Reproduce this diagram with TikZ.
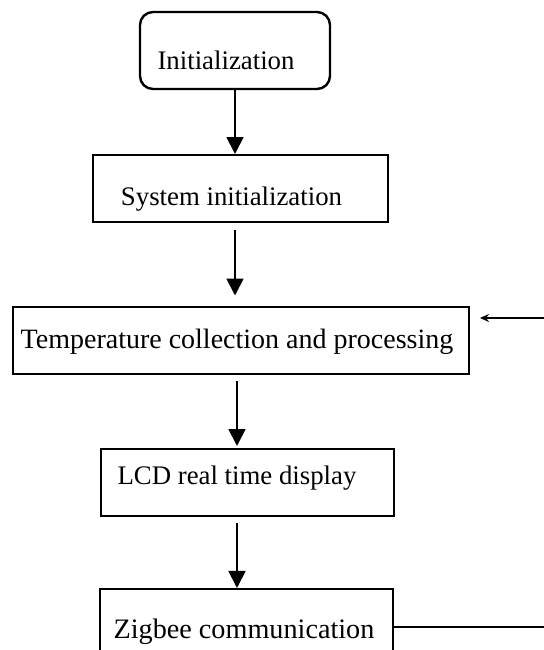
\documentclass[tikz,border=0pt]{standalone}
\usepackage{fontspec}
\setmainfont{Liberation Serif}
\usetikzlibrary{arrows.meta}

\tikzset{
  stepbox/.style={draw, line width=1pt, minimum width=#1, minimum height=33.5pt, inner sep=0pt},
  startbox/.style={draw, line width=1.2pt, rounded corners=6.5pt, minimum width=95pt, minimum height=38.5pt, inner sep=0pt},
  boxtext/.style={font=\fontsize{13.4}{16}\selectfont},
  flow/.style={line width=0.9pt, -{Triangle[length=8.5pt,width=8.5pt]}},
  loopback/.style={line width=0.9pt, -{Stealth[length=4.5pt,width=4pt]}}
}

\begin{document}
\begin{tikzpicture}[x=0.5pt,y=0.5pt]
  \useasboundingbox (0,0) rectangle (544,650);
  \clip (0,0) rectangle (544,650);

  % boxes
  \node[startbox, label={[boxtext,xshift=-4.5pt,yshift=-4.75pt]center:Initialization}] (init) at (235,599.5) {};
  \node[stepbox=147.5pt, label={[boxtext,xshift=-4.5pt,yshift=-5.5pt]center:System initialization}] (sys) at (240.5,461.5) {};
  \node[stepbox=228pt, label={[boxtext,font=\fontsize{14}{17}\selectfont,xshift=-2pt,yshift=-1pt]center:Temperature collection and processing}] (temp) at (241,310) {};
  \node[stepbox=146.5pt, label={[boxtext,xshift=-5.25pt,yshift=2.25pt]center:LCD real time display}] (lcd) at (247.5,167.5) {};
  \node[stepbox=146.5pt, label={[boxtext,font=\fontsize{14.1}{17}\selectfont,xshift=-1.25pt,yshift=-4.75pt]center:Zigbee communication}] (zig) at (246.5,27.5) {};

  % free ends at the right border
  \coordinate (zigout) at (544,23);
  \coordinate (fbin) at (544,332);

  % main flow
  \draw[flow] (init.south) -- (init.south |- sys.north);
  \draw[flow, shorten <=3.5pt, shorten >=5pt] ([xshift=-2.75pt]sys.south) -- ([xshift=-2.75pt]sys.south |- temp.north);
  \draw[flow, shorten <=3pt, shorten >=1pt] ([xshift=-2pt]temp.south) -- ([xshift=-2pt]temp.south |- lcd.north);
  \draw[flow, shorten <=3pt] ([xshift=-5.25pt]lcd.south) -- ([xshift=-5.25pt]lcd.south |- zig.north);

  % loop back
  \draw[line width=0.9pt] (zigout -| zig.east) -- (zigout);
  \draw[loopback, shorten >=5pt] (fbin) -- (fbin -| temp.east);
\end{tikzpicture}
\end{document}
